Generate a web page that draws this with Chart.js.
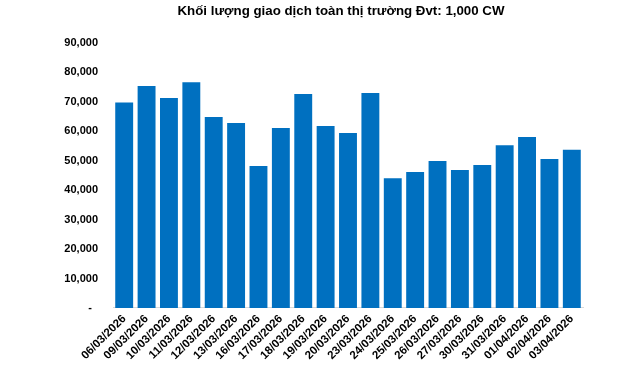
<!DOCTYPE html>
<html>
<head>
<meta charset="utf-8">
<script src="https://cdn.jsdelivr.net/npm/chart.js@4/dist/chart.umd.min.js"></script>
<style>
  body { margin: 0; background: #fff; }
  #wrap { width: 640px; height: 367px; position: relative; }
</style>
</head>
<body>
<div id="wrap"><canvas id="myChart"></canvas></div>
<script>
const dates = ['06/03/2026', '09/03/2026', '10/03/2026', '11/03/2026', '12/03/2026', '13/03/2026',
    '16/03/2026', '17/03/2026', '18/03/2026', '19/03/2026', '20/03/2026', '23/03/2026',
    '24/03/2026', '25/03/2026', '26/03/2026', '27/03/2026', '30/03/2026', '31/03/2026',
    '01/04/2026', '02/04/2026', '03/04/2026'];
const volumes = [69800, 75400, 71300, 76700, 64900, 62800, 48200, 61100, 72700, 61800, 59400,
    73000, 44100, 46200, 49900, 46900, 48600, 55300, 58100, 50600, 53700];
const yMax = 90000;
const yStep = 10000;

const fontFamily = "'Liberation Sans', Arial, sans-serif";

const ctx = document.getElementById('myChart').getContext('2d');
const myChart = new Chart(ctx, {
    type: 'bar',
    data: {
        labels: dates,
        datasets: [{
            label: 'Khối lượng',
            data: volumes,
            backgroundColor: '#0070C0',
            borderWidth: 0,
            categoryPercentage: 1,
            barPercentage: 0.8
        }]
    },
    options: {
        responsive: true,
        maintainAspectRatio: false,
        animation: false,
        layout: { padding: { left: 42, right: 0, top: 0, bottom: 0 } },
        plugins: {
            legend: { display: false },
            tooltip: { enabled: false },
            title: {
                display: true,
                text: 'Khối lượng giao dịch toàn thị trường Đvt: 1,000 CW',
                color: '#000',
                font: { family: fontFamily, size: 13.3, weight: 'bold' },
                padding: { top: 3, bottom: 24 }
            }
        },
        scales: {
            x: {
                grid: { display: false, drawTicks: false },
                border: { display: true, color: '#d9d9d9', width: 1 },
                ticks: {
                    color: '#000',
                    font: { family: fontFamily, size: 11.5, weight: 'bold' },
                    minRotation: 45,
                    maxRotation: 45,
                    autoSkip: false,
                    padding: 4
                },
                afterFit: (scale) => { scale.height = 59; }
            },
            y: {
                min: 0,
                max: yMax,
                grid: { display: false, drawTicks: false },
                border: { display: false },
                ticks: {
                    stepSize: yStep,
                    color: '#000',
                    padding: 15,
                    font: { family: fontFamily, size: 11, weight: 'bold' },
                    callback: (v) => v === 0 ? '-  ' : v.toLocaleString('en-US')
                },
                afterFit: (scale) => { scale.width = 71; }
            },
            // empty space on the right side of the plot
            yRight: {
                position: 'right',
                grid: { display: false, drawTicks: false },
                border: { display: false },
                ticks: { display: false },
                afterFit: (scale) => { scale.width = 57; }
            }
        }
    }
});
</script>
</body>
</html>
